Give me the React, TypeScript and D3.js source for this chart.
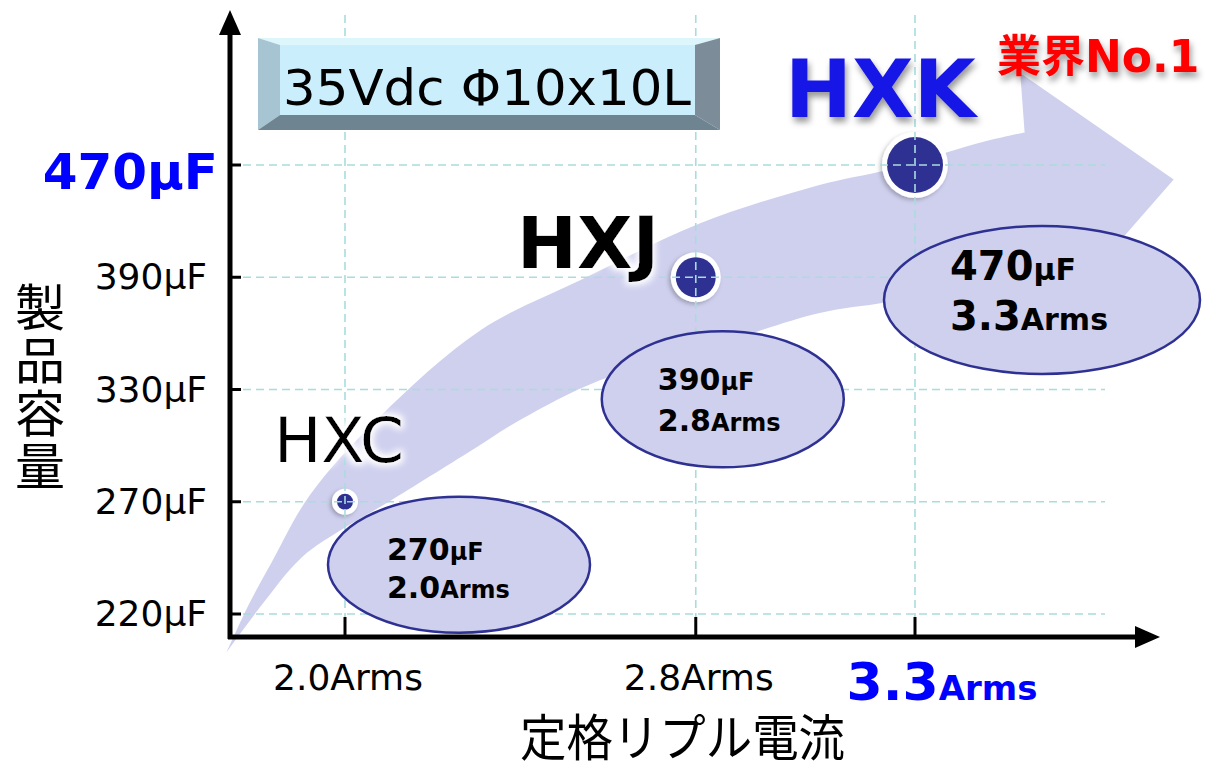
import { useEffect, useRef } from "react";
import { select, scaleLinear, scalePoint, line, curveCatmullRom } from "d3";

// product series
const seriesNames = ["HXC", "HXJ", "HXK"];
const rippleArms = [2.0, 2.8, 3.3];
const capacitanceUF = [270, 390, 470];

// axis ticks
const capTicks = [220, 270, 330, 390, 470];
const rippleTicks = [2.0, 2.8, 3.3];

// big trend arrow, in data units: [Arms, capacitance tick index]
const bandUpper = [
  [1.73, -0.34], [1.78, 0.08], [1.83, 0.44], [1.92, 1.06], [2.08, 1.76],
  [2.31, 2.53], [2.54, 2.98], [2.81, 3.48], [3.08, 3.82], [3.24, 3.96],
  [3.45, 4.2], [3.55, 4.29],
];
const bandHead = [[3.54, 4.82], [3.89, 3.87], [3.59, 2.53], [3.58, 3.02]];
const bandLower = [
  [3.58, 3.02], [3.24, 2.78], [3.08, 2.68], [2.81, 2.35], [2.58, 2.08],
  [2.4, 1.73], [2.29, 1.46], [2.1, 1.0], [2.0, 0.77], [1.9, 0.5],
  [1.81, 0.08], [1.73, -0.34],
];

const W = 1211;
const H = 765;
const FONT = "'DejaVu Sans', 'Noto Sans CJK JP', sans-serif";
const CJK = "'Noto Sans CJK JP', sans-serif";
const NAVY = "#2e3192";
const LAV = "#cfd0ee";
const BLUE = "#0000ff";

// callout placement relative to each point
const calloutLayout = [
  { dx: 114, dy: 63, rx: 131, ry: 68, tx: -72, t1: -5, t2: 33, big: 30, small: 24 },
  { dx: 27, dy: 122, rx: 121, ry: 68, tx: -65, t1: -9, t2: 32, big: 30, small: 24 },
  { dx: 127, dy: 135, rx: 158, ry: 74, tx: -92, t1: -20, t2: 30, big: 40, small: 30 },
];
const nameLayout = [
  { dx: -71, dy: -40, size: 63, weight: 400, fill: "#000", filter: "url(#glow)" },
  { dx: -179, dy: -9, size: 72, weight: 700, fill: "#000", filter: "url(#glow)" },
  { dx: -130, dy: -48, size: 80, weight: 700, fill: "#1414e6", filter: "url(#shadow)" },
];

const draw = (el: SVGSVGElement) => {
  const svg = select(el);
  svg.selectAll("*").remove();

  const plot = { l: 230, r: 1105, t: 15, b: 637 };

  const x = scaleLinear().domain([2.0, 3.3]).range([345, 915]);
  const y = scalePoint<number>().domain(capTicks).range([614, 165]);
  const yIdx = scaleLinear().domain([0, capTicks.length - 1]).range([614, 165]);
  const r = scaleLinear().domain([270, 470]).range([8, 28]);

  const defs = svg.append("defs");
  const sh = defs.append("filter").attr("id", "shadow").attr("x", "-20%").attr("y", "-20%").attr("width", "140%").attr("height", "160%");
  sh.append("feDropShadow").attr("dx", 2).attr("dy", 5).attr("stdDeviation", 3)
    .attr("flood-color", "#000").attr("flood-opacity", 0.4);
  const csh = defs.append("filter").attr("id", "cshadow").attr("x", "-50%").attr("y", "-50%").attr("width", "200%").attr("height", "200%");
  csh.append("feDropShadow").attr("dx", -2).attr("dy", 2).attr("stdDeviation", 2)
    .attr("flood-color", "#000").attr("flood-opacity", 0.25);
  const gl = defs.append("filter").attr("id", "glow").attr("x", "-20%").attr("y", "-30%").attr("width", "140%").attr("height", "160%");
  gl.append("feMorphology").attr("in", "SourceAlpha").attr("operator", "dilate").attr("radius", 3).attr("result", "d");
  gl.append("feGaussianBlur").attr("in", "d").attr("stdDeviation", 3).attr("result", "b");
  gl.append("feFlood").attr("flood-color", "#fff").attr("result", "f");
  gl.append("feComposite").attr("in", "f").attr("in2", "b").attr("operator", "in").attr("result", "g");
  const gm = gl.append("feMerge");
  gm.append("feMergeNode").attr("in", "g");
  gm.append("feMergeNode").attr("in", "SourceGraphic");

  svg.append("rect").attr("width", W).attr("height", H).attr("fill", "#fff");

  // trend band
  const edge = line<number[]>()
    .x((d) => x(d[0]))
    .y((d) => yIdx(d[1]))
    .curve(curveCatmullRom);
  const headPts = bandHead.map((d) => `L${x(d[0])},${yIdx(d[1])}`).join("");
  const lowerPath = (edge(bandLower) || "").replace(/^M[^CL]*/, "");
  const bandD = `${edge(bandUpper)}${headPts}${lowerPath}Z`;
  svg.append("path").attr("d", bandD).attr("fill", LAV);

  const pts = seriesNames.map((name, i) => ({
    name,
    arms: rippleArms[i],
    cap: capacitanceUF[i],
    cx: x(rippleArms[i]),
    cy: y(capacitanceUF[i]) as number,
  }));

  // points
  const pg = svg.append("g");
  pg.selectAll("circle.ring")
    .data(pts)
    .join("circle")
    .attr("class", "ring")
    .attr("cx", (d) => d.cx)
    .attr("cy", (d) => d.cy)
    .attr("r", (d) => r(d.cap) + 5)
    .attr("fill", "#fff")
    .attr("filter", "url(#cshadow)");
  pg.selectAll("circle.dot")
    .data(pts)
    .join("circle")
    .attr("class", "dot")
    .attr("cx", (d) => d.cx)
    .attr("cy", (d) => d.cy)
    .attr("r", (d) => r(d.cap))
    .attr("fill", NAVY);

  // grid
  const grid = svg.append("g").attr("stroke", "#a9dcdc").attr("stroke-width", 1.6).attr("stroke-dasharray", "8,5");
  grid.selectAll("line.h")
    .data(capTicks)
    .join("line")
    .attr("class", "h")
    .attr("x1", plot.l)
    .attr("x2", plot.r)
    .attr("y1", (d) => y(d) as number)
    .attr("y2", (d) => y(d) as number);
  grid.selectAll("line.v")
    .data(rippleTicks)
    .join("line")
    .attr("class", "v")
    .attr("x1", (d) => x(d))
    .attr("x2", (d) => x(d))
    .attr("y1", plot.t)
    .attr("y2", plot.b);

  // callout ellipses
  const cg = svg.append("g").selectAll("g").data(pts).join("g")
    .attr("transform", (d, i) => `translate(${d.cx + calloutLayout[i].dx},${d.cy + calloutLayout[i].dy})`);
  cg.append("ellipse")
    .attr("rx", (d, i) => calloutLayout[i].rx)
    .attr("ry", (d, i) => calloutLayout[i].ry)
    .attr("fill", LAV)
    .attr("stroke", NAVY)
    .attr("stroke-width", 2.5);
  const t1 = cg.append("text")
    .attr("x", (d, i) => calloutLayout[i].tx)
    .attr("y", (d, i) => calloutLayout[i].t1)
    .attr("font-family", FONT)
    .attr("font-weight", 700)
    .attr("fill", "#000");
  t1.append("tspan").attr("font-size", (d, i) => calloutLayout[i].big).text((d) => `${d.cap}`);
  t1.append("tspan").attr("font-size", (d, i) => calloutLayout[i].small).text("μF");
  const t2 = cg.append("text")
    .attr("x", (d, i) => calloutLayout[i].tx)
    .attr("y", (d, i) => calloutLayout[i].t2)
    .attr("font-family", FONT)
    .attr("font-weight", 700)
    .attr("fill", "#000");
  t2.append("tspan").attr("font-size", (d, i) => calloutLayout[i].big).text((d) => d.arms.toFixed(1));
  t2.append("tspan").attr("font-size", (d, i) => calloutLayout[i].small).text("Arms");

  // series names
  svg.append("g").selectAll("text").data(pts).join("text")
    .attr("x", (d, i) => d.cx + nameLayout[i].dx)
    .attr("y", (d, i) => d.cy + nameLayout[i].dy)
    .attr("font-family", FONT)
    .attr("font-size", (d, i) => nameLayout[i].size)
    .attr("font-weight", (d, i) => nameLayout[i].weight)
    .attr("fill", (d, i) => nameLayout[i].fill)
    .attr("filter", (d, i) => nameLayout[i].filter)
    .text((d) => d.name);

  // axes
  const ax = svg.append("g");
  ax.append("line").attr("x1", plot.l).attr("x2", plot.l).attr("y1", 32).attr("y2", plot.b + 2)
    .attr("stroke", "#000").attr("stroke-width", 5);
  ax.append("path").attr("d", `M${plot.l},10L${plot.l - 11},35L${plot.l + 11},35Z`).attr("fill", "#000");
  ax.append("line").attr("x1", plot.l - 2).attr("x2", 1140).attr("y1", plot.b).attr("y2", plot.b)
    .attr("stroke", "#000").attr("stroke-width", 5);
  ax.append("path").attr("d", `M1160,${plot.b}L1135,${plot.b - 11}L1135,${plot.b + 11}Z`).attr("fill", "#000");
  ax.selectAll("line.yt").data(capTicks).join("line").attr("class", "yt")
    .attr("x1", plot.l).attr("x2", plot.l + 11)
    .attr("y1", (d) => y(d) as number).attr("y2", (d) => y(d) as number)
    .attr("stroke", "#000").attr("stroke-width", 3);
  ax.selectAll("line.xt").data(rippleTicks).join("line").attr("class", "xt")
    .attr("x1", (d) => x(d)).attr("x2", (d) => x(d))
    .attr("y1", plot.b - 20).attr("y2", plot.b)
    .attr("stroke", "#000").attr("stroke-width", 3);

  const capMax = Math.max(...capacitanceUF);
  const armsMax = Math.max(...rippleArms);

  // y tick labels
  ax.selectAll("text.yl").data(capTicks).join("text").attr("class", "yl")
    .attr("x", (d) => (d === capMax ? 218 : 207))
    .attr("y", (d) => (y(d) as number) + (d === capMax ? 24 : 12))
    .attr("text-anchor", "end")
    .attr("font-family", FONT)
    .attr("font-size", (d) => (d === capMax ? 50 : 36))
    .attr("font-weight", (d) => (d === capMax ? 700 : 400))
    .attr("fill", (d) => (d === capMax ? BLUE : "#000"))
    .text((d) => `${d}μF`);

  // x tick labels
  const xl = ax.selectAll("text.xl").data(rippleTicks).join("text").attr("class", "xl")
    .attr("x", (d) => x(d) + (d === armsMax ? 27 : 3))
    .attr("y", (d) => (d === armsMax ? 700 : 690))
    .attr("text-anchor", "middle")
    .attr("font-family", FONT)
    .attr("font-weight", (d) => (d === armsMax ? 700 : 400))
    .attr("fill", (d) => (d === armsMax ? BLUE : "#000"));
  xl.append("tspan").attr("font-size", (d) => (d === armsMax ? 52 : 36)).text((d) => d.toFixed(1));
  xl.append("tspan").attr("font-size", (d) => (d === armsMax ? 34 : 36)).text("Arms");

  // axis titles
  svg.append("text").attr("x", 520).attr("y", 756)
    .attr("font-family", CJK).attr("font-size", 50)
    .attr("textLength", 325).attr("lengthAdjust", "spacingAndGlyphs")
    .attr("fill", "#000").text("定格リプル電流");
  svg.append("text").attr("x", 40).attr("y", 282)
    .attr("style", "writing-mode: vertical-rl; text-orientation: upright; letter-spacing: 3px")
    .attr("font-family", CJK).attr("font-size", 50).attr("fill", "#000").text("製品容量");

  // title box
  const tb = svg.append("g");
  const o = { l: 258, t: 38, r: 720, b: 130 };
  const f = { l: 280, t: 45, r: 695, b: 115 };
  tb.append("path").attr("d", `M${o.l},${o.t}L${o.r},${o.t}L${f.r},${f.t}L${f.l},${f.t}Z`).attr("fill", "#dcf6fb");
  tb.append("path").attr("d", `M${o.l},${o.t}L${f.l},${f.t}L${f.l},${f.b}L${o.l},${o.b}Z`).attr("fill", "#a6c4d2");
  tb.append("path").attr("d", `M${o.r},${o.t}L${o.r},${o.b}L${f.r},${f.b}L${f.r},${f.t}Z`).attr("fill", "#7c8d99");
  tb.append("path").attr("d", `M${o.l},${o.b}L${f.l},${f.b}L${f.r},${f.b}L${o.r},${o.b}Z`).attr("fill", "#6f8491");
  tb.append("rect").attr("x", f.l).attr("y", f.t).attr("width", f.r - f.l).attr("height", f.b - f.t).attr("fill", "#cbeefc");
  tb.append("text").attr("x", 283).attr("y", 105)
    .attr("font-family", FONT).attr("font-size", 50)
    .attr("textLength", 408).attr("lengthAdjust", "spacingAndGlyphs")
    .attr("fill", "#000").text("35Vdc Φ10x10L");

  svg.append("text").attr("x", 997).attr("y", 72)
    .attr("font-family", FONT).attr("font-size", 44).attr("font-weight", 700)
    .attr("fill", "#ff0000").attr("filter", "url(#shadow)").text("業界No.1");
};

export default function App() {
  const ref = useRef<SVGSVGElement>(null);
  useEffect(() => {
    if (ref.current) draw(ref.current);
  }, []);
  return (
    <svg
      ref={ref}
      width={W}
      height={H}
      style={{ position: "absolute", left: 0, top: 0, display: "block" }}
    />
  );
}
